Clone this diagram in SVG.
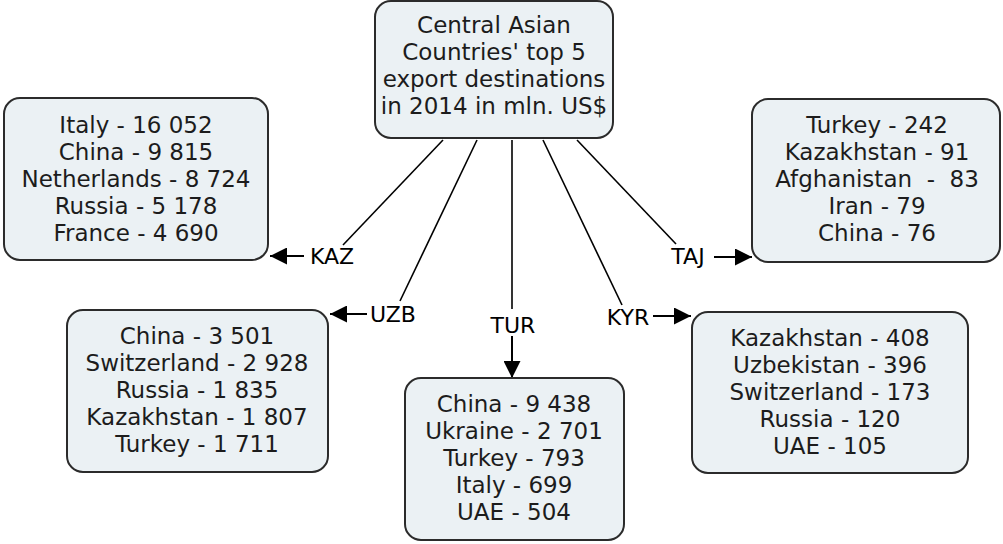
<svg xmlns="http://www.w3.org/2000/svg" width="1003" height="544" viewBox="0 0 1003 544">
<defs>
<marker id="ah" markerWidth="17" markerHeight="17" refX="16" refY="8" orient="auto" markerUnits="userSpaceOnUse" viewBox="0 0 16 16">
<path d="M0,0 L16,8 L0,16 z" fill="#000"/>
</marker>
<style>
.box{fill:#ebf1f4;stroke:#2b2b2b;stroke-width:2}
.t{font-family:"DejaVu Sans",Verdana,sans-serif;font-size:23px;fill:#1c1c1c;text-anchor:middle}
.l{font-family:"DejaVu Sans",Verdana,sans-serif;font-size:22px;fill:#000;text-anchor:middle}
.c{stroke:#000;stroke-width:1.6;fill:none}
.a{stroke:#000;stroke-width:2;fill:none}
</style>
</defs>
<rect width="1003" height="544" fill="#fff"/>
<g id="connectors">
<line class="c" x1="443" y1="140" x2="343" y2="245"/>
<line class="c" x1="477" y1="140" x2="400" y2="301"/>
<line class="c" x1="512" y1="140" x2="512" y2="309"/>
<line class="c" x1="543" y1="140" x2="622" y2="305"/>
<line class="c" x1="577" y1="140" x2="676" y2="244"/>
<line class="a" x1="304" y1="256" x2="270" y2="256" marker-end="url(#ah)"/>
<line class="a" x1="367" y1="314" x2="330" y2="314" marker-end="url(#ah)"/>
<line class="a" x1="512" y1="336" x2="512" y2="378" marker-end="url(#ah)"/>
<line class="a" x1="653" y1="316" x2="691" y2="316" marker-end="url(#ah)"/>
<line class="a" x1="714" y1="257" x2="752" y2="257" marker-end="url(#ah)"/>
<text class="l" x="332" y="264">KAZ</text>
<text class="l" x="393" y="322">UZB</text>
<text class="l" x="513" y="333">TUR</text>
<text class="l" x="628" y="325">KYR</text>
<text class="l" x="688" y="264">TAJ</text>
</g>
<g id="center">
<rect class="box" x="375" y="1" width="238" height="137" rx="16"/>
<text class="t" x="494" y="33">Central Asian</text>
<text class="t" x="494" y="60">Countries' top 5</text>
<text class="t" x="494" y="87">export destinations</text>
<text class="t" x="494" y="114">in 2014 in mln. US$</text>
</g>
<g id="kaz">
<rect class="box" x="4" y="98" width="264" height="162" rx="16"/>
<text class="t" x="136" y="133">Italy - 16 052</text>
<text class="t" x="136" y="160">China - 9 815</text>
<text class="t" x="136" y="187">Netherlands - 8 724</text>
<text class="t" x="136" y="214">Russia - 5 178</text>
<text class="t" x="136" y="241">France - 4 690</text>
</g>
<g id="uzb">
<rect class="box" x="67" y="310" width="261" height="162" rx="16"/>
<text class="t" x="197" y="344">China - 3 501</text>
<text class="t" x="197" y="371">Switzerland - 2 928</text>
<text class="t" x="197" y="398">Russia - 1 835</text>
<text class="t" x="197" y="425">Kazakhstan - 1 807</text>
<text class="t" x="197" y="452">Turkey - 1 711</text>
</g>
<g id="tur">
<rect class="box" x="405" y="378" width="219" height="162" rx="16"/>
<text class="t" x="514" y="412">China - 9 438</text>
<text class="t" x="514" y="439">Ukraine - 2 701</text>
<text class="t" x="514" y="466">Turkey - 793</text>
<text class="t" x="514" y="493">Italy - 699</text>
<text class="t" x="514" y="520">UAE - 504</text>
</g>
<g id="kyr">
<rect class="box" x="692" y="312" width="276" height="161" rx="16"/>
<text class="t" x="830" y="346">Kazakhstan - 408</text>
<text class="t" x="830" y="373">Uzbekistan - 396</text>
<text class="t" x="830" y="400">Switzerland - 173</text>
<text class="t" x="830" y="427">Russia - 120</text>
<text class="t" x="830" y="454">UAE - 105</text>
</g>
<g id="taj">
<rect class="box" x="752" y="99" width="248" height="163" rx="16"/>
<text class="t" x="877" y="133">Turkey - 242</text>
<text class="t" x="877" y="160">Kazakhstan - 91</text>
<text class="t" x="877" y="187" xml:space="preserve">Afghanistan  -  83</text>
<text class="t" x="877" y="214">Iran - 79</text>
<text class="t" x="877" y="241">China - 76</text>
</g>
</svg>
